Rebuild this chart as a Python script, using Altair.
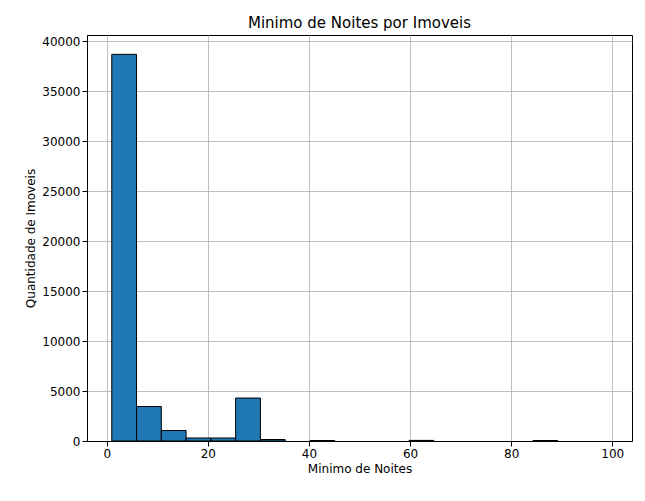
import altair as alt
import pandas as pd

bin_start = [1 + 4.9 * i for i in range(20)]
counts = [38700, 3450, 1050, 300, 300, 4300, 150, 0, 50, 0, 0, 0, 60, 0, 0, 0, 0, 50, 0, 0]

df = pd.DataFrame({"start": bin_start, "end": [s + 4.9 for s in bin_start], "count": counts})
df = df[df["count"] > 0]

chart = alt.Chart(df).mark_bar(color="#1f77b4", stroke="black", strokeWidth=1).encode(
    x=alt.X("start:Q", scale=alt.Scale(domain=[-3.9, 103.9], nice=False, zero=False),
            axis=alt.Axis(values=[0, 20, 40, 60, 80, 100], title="Minimo de Noites", format="d")),
    x2="end:Q",
    y=alt.Y("count:Q", scale=alt.Scale(domain=[0, 40635], nice=False),
            axis=alt.Axis(values=list(range(0, 40001, 5000)), title="Quantidade de Imoveis", format="d")),
    y2=alt.datum(0),
).properties(
    width=545, height=406,
    title=alt.TitleParams("Minimo de Noites por Imoveis", fontSize=15, fontWeight="normal", font="DejaVu Sans"),
    autosize="none", padding={"left": 79, "top": 27, "right": 5, "bottom": 50},
).configure_axis(
    grid=True, gridColor="#b0b0b0", gridWidth=0.8, domainColor="black", tickColor="black",
    labelFont="DejaVu Sans", titleFont="DejaVu Sans", labelFontSize=12, titleFontSize=12,
    titleFontWeight="normal", labelColor="black", titleColor="black",
).configure_view(stroke="black", strokeWidth=1)

chart.save("out.html", embed_options={"renderer": "svg", "actions": False})
